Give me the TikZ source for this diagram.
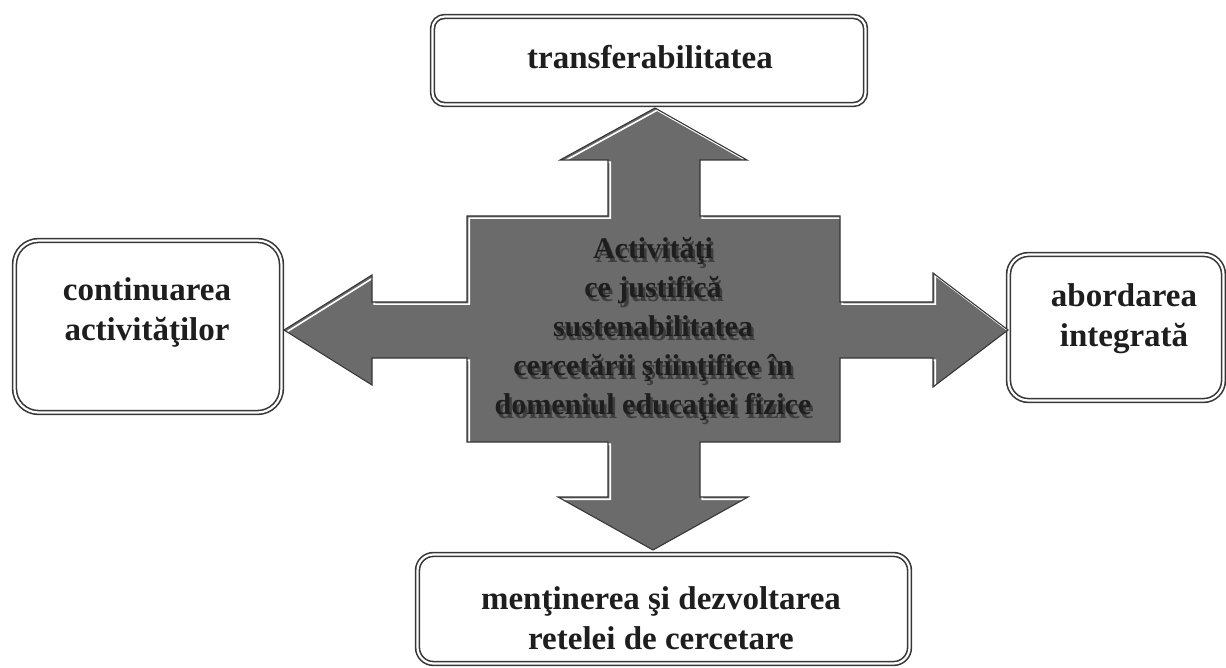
\documentclass[tikz,border=0pt]{standalone}
\usepackage{fontspec}
\setmainfont{Liberation Serif}
\definecolor{crossgray}{RGB}{107,107,107}
\definecolor{edgegray}{RGB}{55,55,55}
\definecolor{txt}{RGB}{30,30,30}
\definecolor{shadowgray}{RGB}{62,62,62}
\newcommand\shadowed[1]{\leavevmode\rlap{\hspace{2.5pt}\raisebox{-3.5pt}{\textcolor{shadowgray}{#1}}}\textcolor{txt}{#1}}
\begin{document}
\begin{tikzpicture}[x=1pt,y=-1pt,
  box/.style={draw=edgegray, line width=1.6pt, double=white, double distance=2.2pt,
     fill=white, inner sep=0pt},
  boxtext/.style={font=\bfseries\fontsize{33}{40}\selectfont, text=txt, align=center, inner sep=0pt},
  centertext/.style={font=\bfseries\fontsize{30}{39}\selectfont, align=center, inner sep=0pt}]
\useasboundingbox (0,0) rectangle (1226,668);

% boxes
\node[box, rounded corners=12pt, minimum width=433pt, minimum height=88pt] (topbox) at (649,60.5) {};
\node[box, rounded corners=24pt, minimum width=267pt, minimum height=172pt] (leftbox) at (148,326.5) {};
\node[box, rounded corners=20pt, minimum width=215pt, minimum height=146pt] (rightbox) at (1116,327.5) {};
\node[box, rounded corners=16pt, minimum width=492pt, minimum height=109pt] (botbox) at (663.5,609) {};

% cross with four arrows
\def\crosspath{(655,108) -- (747,160) -- (700,160) -- (700,216) -- (840,216) -- (840,302)
  -- (933,302) -- (933,273) -- (1008,330) -- (933,387) -- (933,358) -- (840,358)
  -- (840,442) -- (700,442) -- (700,497) -- (748,497) -- (653,550) -- (558,497)
  -- (608,497) -- (608,442) -- (467,442) -- (467,358) -- (372,358) -- (372,385)
  -- (284,330) -- (372,275) -- (372,302) -- (467,302) -- (467,216) -- (608,216)
  -- (608,160) -- (560,160) -- cycle}
\fill[crossgray] \crosspath;
\begin{scope}
  \clip \crosspath;
  \draw[white, line width=1.6pt, shift={(2.2,2.2)}] \crosspath;
\end{scope}
\draw[edgegray, line width=1.1pt, line join=miter] \crosspath;

% box texts
\node[boxtext] (toptext) at (650,57) {transferabilitatea};
\node[boxtext] (lefttext) at (147,312) {continuarea\\activităţilor};
\node[boxtext] (righttext) at (1124,319) {abordarea\\integrată};
\node[boxtext] (bottext) at (661,618) {menţinerea şi dezvoltarea\\retelei de cercetare};

% centre text with shadow
\node[centertext] (centertext) at (653,331)
  {\shadowed{Activităţi}\\\shadowed{ce justifică}\\\shadowed{sustenabilitatea}\\\shadowed{cercetării ştiinţifice în}\\\shadowed{domeniul educaţiei fizice}};
\end{tikzpicture}
\end{document}
